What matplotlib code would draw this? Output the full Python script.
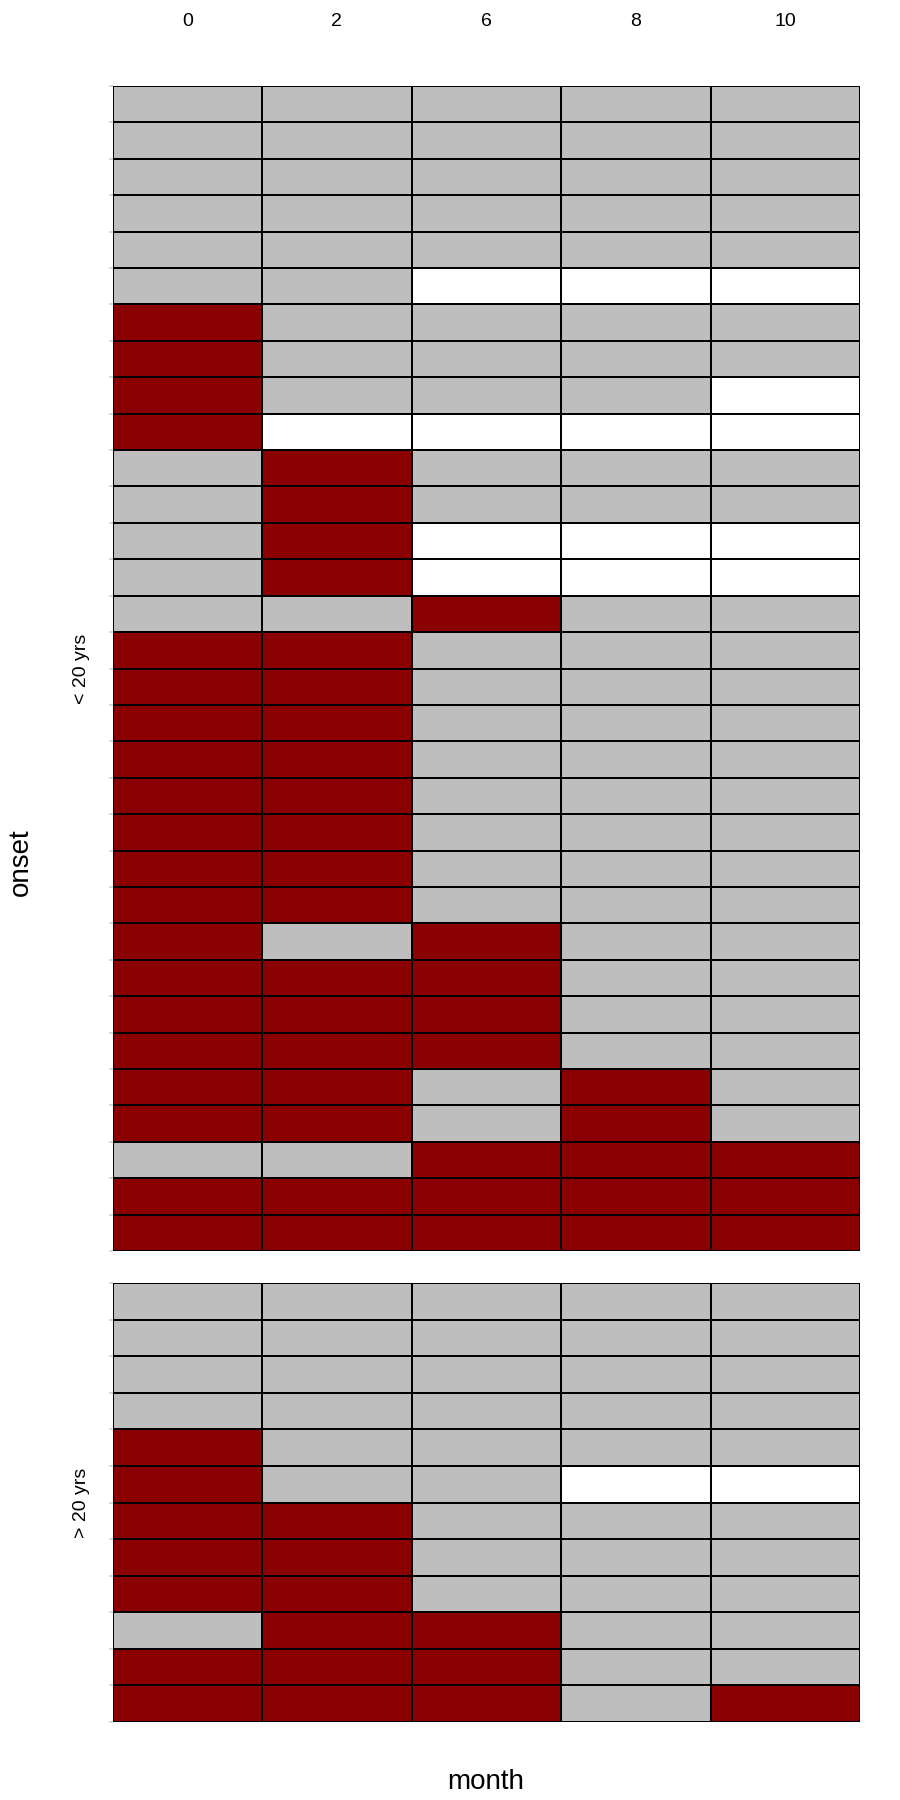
import matplotlib
matplotlib.use('Agg')
import matplotlib.pyplot as plt
from matplotlib.colors import ListedColormap
import numpy as np

plt.rcParams['font.family'] = ['Liberation Sans', 'DejaVu Sans']

months = ['0', '2', '6', '8', '10']

# R = dark red, G = gray, W = white (missing); rows listed top to bottom
under20 = [
    'GGGGG', 'GGGGG', 'GGGGG', 'GGGGG', 'GGGGG',
    'GGWWW', 'RGGGG', 'RGGGG', 'RGGGW', 'RWWWW',
    'GRGGG', 'GRGGG', 'GRWWW', 'GRWWW', 'GGRGG',
    'RRGGG', 'RRGGG', 'RRGGG', 'RRGGG', 'RRGGG',
    'RRGGG', 'RRGGG', 'RRGGG', 'RGRGG', 'RRRGG',
    'RRRGG', 'RRRGG', 'RRGRG', 'RRGRG', 'GGRRR',
    'RRRRR', 'RRRRR',
]
over20 = [
    'GGGGG', 'GGGGG', 'GGGGG', 'GGGGG', 'RGGGG',
    'RGGWW', 'RRGGG', 'RRGGG', 'RRGGG', 'GRRGG',
    'RRRGG', 'RRRGR',
]
groups = ['< 20 yrs', '> 20 yrs']

codes = {'W': 0, 'G': 1, 'R': 2}
cmap = ListedColormap(['#FFFFFF', '#BEBEBE', '#8B0000'])

fig = plt.figure(figsize=(9, 18), dpi=100, facecolor='w')

W, H = 900.0, 1800.0
left, right = 112.5, 860.0
panels = [(86.0, 1251.0, under20, groups[0]), (1283.0, 1722.0, over20, groups[1])]

for i, (top, bot, rows, lab) in enumerate(panels):
    ax = fig.add_axes([left / W, 1 - bot / H, (right - left) / W, (bot - top) / H])
    z = np.array([[codes[c] for c in r] for r in rows])
    ax.pcolormesh(z, cmap=cmap, vmin=0, vmax=2, edgecolors='k', linewidth=1.3)
    ax.set_xlim(0, len(months))
    ax.set_ylim(len(rows), 0)
    for s in ax.spines.values():
        s.set_visible(False)
    ax.set_yticks(np.arange(len(rows) + 1))
    ax.set_yticklabels([])
    ax.tick_params(axis='y', length=3, width=1.2, color='#D0D0D0')
    ax.set_xticks(np.arange(len(months)) + 0.5)
    if i == 0:
        ax.xaxis.tick_top()
        ax.set_xticklabels(months, fontsize=14)
        ax.tick_params(axis='x', length=0, pad=40)
    else:
        ax.set_xticklabels([])
        ax.tick_params(axis='x', length=0)
    fig.text(82 / W, 1 - (top + bot) / 2 / H, lab, rotation=90, fontsize=14,
             ha='center', va='center')

fig.text(21 / W, 1 - 862 / H, 'onset', rotation=90, fontsize=20, ha='center', va='center')
fig.text(486 / W, 1 - 1782 / H, 'month', fontsize=20, ha='center', va='center')

fig.savefig('out.png', dpi=100)
